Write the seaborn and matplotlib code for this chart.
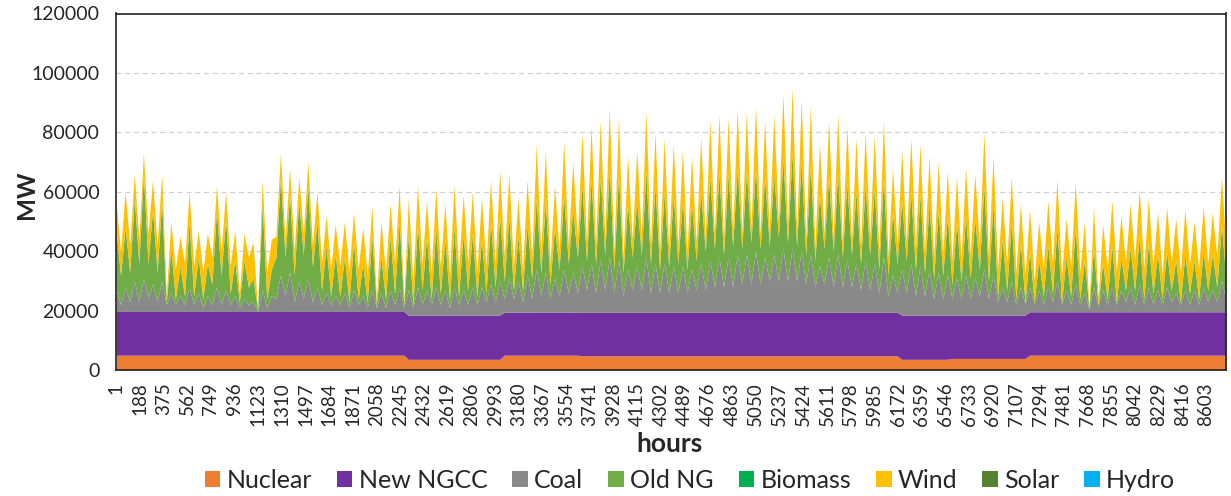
import numpy as np
import matplotlib
matplotlib.use("Agg")
import matplotlib.pyplot as plt
import seaborn as sns
from matplotlib.patches import Patch

# ---------------- data (thousand MW unless noted) ----------------
# daily-cycle peaks (k) and troughs (j) across the year, alternating in time
total_peak_k = [57, 60, 66, 73, 64, 66, 50, 45, 60, 47,
                46, 62, 60, 47, 46, 43, 64, 44, 73, 68,
                65, 70, 60, 52, 49, 50, 53, 48, 55, 50,
                56, 62, 58, 62, 57, 61, 56, 62, 59, 60,
                58, 64, 67, 66, 58, 64, 76, 74, 62, 77,
                70, 80, 82, 84, 88, 85, 72, 74, 87, 80,
                78, 76, 74, 72, 78, 84, 86, 85, 88, 87,
                89, 84, 86, 93, 95, 91, 89, 76, 84, 86,
                82, 78, 80, 79, 84, 68, 74, 78, 76, 72,
                70, 67, 65, 68, 66, 80, 72, 58, 65, 56,
                54, 50, 57, 64, 51, 63, 50, 55, 49, 57,
                52, 56, 61, 58, 53, 55, 51, 54, 50, 55,
                53, 65]
total_trough_k = [40, 42, 44, 46, 42, 25, 34, 36, 35, 33,
                  38, 40, 35, 26, 38, 20.5, 33, 45, 44, 40,
                  46, 42, 36, 34, 35, 33, 34, 32, 24, 33,
                  36, 23, 30, 36, 33, 35, 32, 34, 36, 33,
                  35, 36, 38, 35, 34, 38, 40, 36, 40, 42,
                  44, 43, 42, 45, 40, 38, 44, 45, 42, 40,
                  41, 42, 40, 43, 45, 46, 44, 47, 46, 48,
                  46, 47, 50, 48, 47, 44, 42, 46, 45, 43,
                  44, 42, 45, 40, 38, 42, 43, 41, 40, 38,
                  39, 37, 38, 39, 42, 38, 34, 36, 33, 32,
                  30, 34, 36, 32, 35, 33, 21, 24, 34, 33,
                  36, 37, 34, 35, 32, 36, 33, 35, 34, 36,
                  38, 40]
# top of the coal band (cumulative)
coal_top_peak_k = [27, 28, 30, 31, 29, 30, 26, 25, 28, 26,
                   25, 28, 27, 25, 24, 23, 27, 25, 32, 33,
                   30, 31, 28, 26, 25, 26, 27, 25, 27, 26,
                   27, 28, 27, 28, 27, 28, 27, 28, 27, 28,
                   28, 29, 30, 31, 30, 32, 34, 33, 31, 34,
                   33, 35, 36, 37, 38, 37, 34, 35, 38, 36,
                   36, 35, 35, 34, 36, 37, 38, 38, 39, 39,
                   40, 38, 39, 41, 41, 40, 39, 35, 38, 39,
                   37, 36, 37, 36, 38, 32, 34, 36, 35, 34,
                   33, 32, 31, 32, 31, 34, 32, 28, 30, 28,
                   28, 27, 28, 30, 27, 29, 26, 28, 27, 28,
                   27, 28, 29, 28, 27, 28, 26, 27, 27, 28,
                   27, 30]
coal_top_trough_k = [22, 23, 23, 24, 23, 22, 22, 22, 22, 21,
                     22, 22, 22, 21, 22, 19.7, 21, 24, 25, 23,
                     24, 23, 22, 22, 22, 21, 22, 21, 21, 21,
                     22, 21, 21, 22, 22, 22, 21, 22, 22, 22,
                     23, 23, 24, 24, 23, 24, 25, 24, 25, 26,
                     26, 27, 26, 27, 26, 25, 27, 27, 26, 26,
                     26, 26, 26, 27, 27, 28, 28, 28, 29, 29,
                     29, 30, 30, 30, 30, 29, 28, 29, 28, 28,
                     28, 27, 27, 26, 25, 26, 26, 25, 25, 24,
                     24, 24, 24, 24, 25, 24, 23, 23, 22, 22,
                     22, 22, 23, 22, 22, 22, 20.5, 21.5, 22, 22,
                     23, 22, 22, 22, 22, 23, 22, 22, 22, 23,
                     23, 24]
wind_peak_k = [10, 12, 8, 7, 10, 9, 9, 10, 10, 9,
               10, 8, 9, 10, 9, 12, 8, 10, 8, 9,
               8, 8, 10, 10, 10, 12, 10, 12, 10, 12,
               11, 12, 12, 13, 12, 13, 12, 14, 13, 14,
               14, 14, 15, 14, 13, 15, 18, 17, 14, 18,
               16, 18, 18, 19, 20, 19, 16, 17, 20, 18,
               18, 17, 17, 16, 18, 19, 20, 19, 20, 20,
               21, 19, 20, 22, 22, 21, 20, 17, 19, 20,
               19, 18, 18, 18, 19, 15, 17, 18, 17, 16,
               16, 15, 15, 16, 15, 18, 16, 14, 15, 13,
               14, 13, 15, 16, 13, 15, 13, 14, 13, 15,
               14, 15, 16, 15, 14, 15, 14, 15, 13, 15,
               14, 16]
wind_trough_k = [8, 9, 8, 10, 9, 2, 10, 11, 10, 9,
                 9, 8, 9, 3, 10, 0, 9, 7, 6, 8,
                 7, 7, 9, 9, 10, 10, 10, 9, 2, 9,
                 10, 1, 8, 9, 9, 9, 8, 9, 9, 8,
                 9, 8, 8, 8, 7, 7, 7, 7, 6, 6,
                 6, 6, 6, 6, 6, 5, 6, 6, 6, 6,
                 6, 6, 6, 6, 5, 5, 5, 5, 5, 5,
                 5, 5, 5, 5, 5, 5, 5, 5, 5, 5,
                 5, 6, 6, 6, 6, 6, 6, 7, 7, 7,
                 7, 8, 8, 8, 8, 8, 9, 9, 9, 9,
                 7, 9, 10, 9, 10, 9, 0, 2, 10, 10,
                 9, 10, 10, 9, 8, 9, 10, 9, 10, 9,
                 10, 10]
# constant blocks (MW) for nuclear and new NGCC, starting at these hours
block_start_h = [1, 2281, 3054, 3646, 6187, 6582, 7190]
nuclear_mw = [5000, 3600, 5000, 4800, 3600, 3900, 5000]
new_ngcc_mw = [14700, 14900, 14500, 14600, 14900, 14600, 14600]
biomass_mw = 300
solar_mw = 0
hydro_mw = 0

hour_ticks = list(range(1, 8761, 187))
y_ticks = [0, 20000, 40000, 60000, 80000, 100000, 120000]
labels = ["Nuclear", "New NGCC", "Coal", "Old NG", "Biomass", "Wind", "Solar", "Hydro"]
colors = ["#ED7D31", "#7030A0", "#898989", "#70AD47", "#00B050", "#FFC000", "#548235", "#00B0F0"]

# ---------------- build the stacked table ----------------
n = 2 * len(total_peak_k)
hours = np.linspace(1, 8760, n)


def weave(peaks, troughs):
    a = np.empty(n)
    a[0::2] = peaks
    a[1::2] = troughs
    return a * 1000


total = weave(total_peak_k, total_trough_k)
coal_top = weave(coal_top_peak_k, coal_top_trough_k)
wind = weave(wind_peak_k, wind_trough_k)
blk = np.searchsorted(block_start_h, hours, side="right") - 1
nuclear = np.array(nuclear_mw, float)[blk]
new_ngcc = np.array(new_ngcc_mw, float)[blk]
coal = np.clip(coal_top - nuclear - new_ngcc, 0, None)
biomass = np.full(n, float(biomass_mw))
old_ng = np.clip(total - coal_top - biomass - wind, 0, None)
solar = np.full(n, float(solar_mw))
hydro = np.full(n, float(hydro_mw))

# ---------------- draw ----------------
sns.set_theme(style="white")
plt.rcParams["font.family"] = ["Lato", "DejaVu Sans"]

W, H = 1231, 496
fig = plt.figure(figsize=(W / 100, H / 100), dpi=100)
ax = fig.add_axes([116 / W, 1 - 370 / H, 1110 / W, (370 - 13.5) / H])

ax.stackplot(hours, nuclear, new_ngcc, coal, old_ng, biomass, wind, solar, hydro,
             colors=colors, labels=labels, linewidth=0)

ax.set_xlim(1, 8760)
ax.set_ylim(0, 120000)
ax.set_yticks(y_ticks)
ax.set_yticklabels([str(v) for v in y_ticks], fontsize=14)
ax.set_xticks(hour_ticks)
ax.set_xticklabels([str(v) for v in hour_ticks], rotation=90, fontsize=13.5)
ax.tick_params(axis="y", length=0, pad=12)
ax.tick_params(axis="x", length=0, pad=9)
ax.yaxis.grid(True, linestyle=(0, (4, 3)), color="#D0D0D0", linewidth=0.9)
ax.xaxis.grid(False)
ax.set_axisbelow(True)
for s in ax.spines.values():
    s.set_visible(True)
    s.set_color("#222222")
    s.set_linewidth(1.2)

fig.text(26 / W, 1 - 195 / H, "MW", rotation=90, ha="center", va="center",
         fontsize=17.5, fontweight="bold")
fig.text(670 / W, 1 - 444 / H, "hours", ha="center", va="center",
         fontsize=19, fontweight="bold")

handles = [Patch(facecolor=c, edgecolor="none", label=l) for c, l in zip(colors, labels)]
fig.legend(handles=handles, loc="center", bbox_to_anchor=(690 / W, 1 - 480 / H), ncol=8,
           frameon=False, fontsize=18, handlelength=0.62, handleheight=0.62,
           handletextpad=0.25, columnspacing=1.0)

fig.savefig("out.png", dpi=100)
